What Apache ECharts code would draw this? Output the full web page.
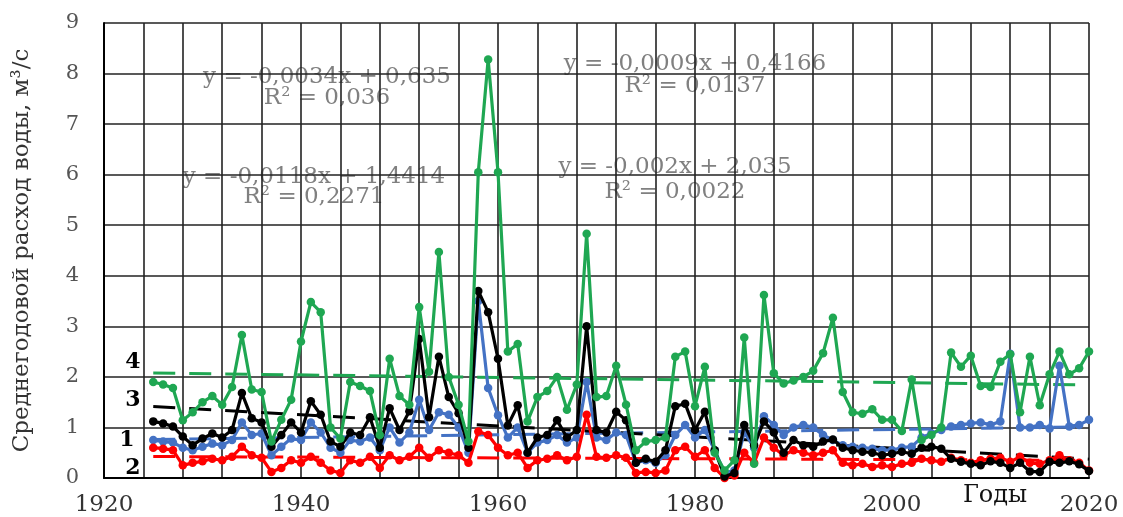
<!DOCTYPE html>
<html><head><meta charset="utf-8">
<script src="https://cdn.jsdelivr.net/npm/echarts@6/dist/echarts.min.js"></script>
<style>html,body{margin:0;padding:0;background:#fff}#c{width:1123px;height:517px}</style>
</head><body><div id="c"></div>
<script>
const startYear = 1925;
const green4 = [1.9,1.85,1.78,1.14,1.3,1.5,1.62,1.45,1.8,2.83,1.75,1.7,0.72,1.15,1.55,2.7,3.48,3.28,1.0,0.78,1.9,1.82,1.72,0.85,2.36,1.62,1.45,3.38,2.1,4.47,2.0,1.45,0.72,6.05,8.28,6.05,2.5,2.65,1.12,1.6,1.72,2.0,1.35,1.85,4.83,1.6,1.62,2.22,1.45,0.55,0.72,0.75,0.8,2.4,2.5,1.42,2.2,0.5,0.15,0.35,2.78,0.28,3.62,2.07,1.87,1.93,2.0,2.12,2.47,3.17,1.7,1.3,1.27,1.36,1.15,1.15,0.93,1.95,0.75,0.85,1.0,2.48,2.2,2.42,1.82,1.8,2.3,2.45,1.3,2.4,1.44,2.05,2.5,2.05,2.17,2.5];
const black3 = [1.12,1.08,1.02,0.82,0.65,0.78,0.88,0.8,0.95,1.68,1.18,1.1,0.62,0.85,1.1,0.9,1.52,1.25,0.72,0.62,0.9,0.85,1.2,0.6,1.38,0.95,1.32,2.75,1.2,2.4,1.6,1.28,0.6,3.7,3.28,2.36,1.04,1.44,0.5,0.8,0.85,1.14,0.8,0.95,3.0,0.95,0.9,1.31,1.14,0.3,0.38,0.32,0.55,1.42,1.47,0.95,1.31,0.55,0.03,0.1,1.05,0.65,1.12,0.9,0.5,0.75,0.65,0.62,0.72,0.76,0.6,0.55,0.52,0.5,0.45,0.48,0.52,0.48,0.6,0.62,0.58,0.38,0.32,0.28,0.25,0.33,0.3,0.2,0.3,0.13,0.12,0.32,0.3,0.33,0.27,0.14];
const blue1 = [0.75,0.72,0.7,0.6,0.55,0.62,0.68,0.65,0.75,1.1,0.85,0.88,0.45,0.62,0.78,0.75,1.1,0.9,0.6,0.5,0.75,0.72,0.8,0.55,1.0,0.7,0.9,1.55,0.95,1.3,1.25,1.0,0.5,3.5,1.78,1.24,0.8,1.0,0.5,0.7,0.75,0.85,0.7,0.8,1.9,0.8,0.75,0.9,0.85,0.3,0.35,0.3,0.45,0.85,1.05,0.8,0.95,0.55,0.1,0.15,0.9,0.6,1.22,1.05,0.85,1.0,1.05,1.0,0.85,0.75,0.65,0.62,0.6,0.58,0.55,0.55,0.6,0.62,0.8,0.88,0.95,1.02,1.05,1.08,1.1,1.05,1.12,2.46,1.0,1.0,1.05,0.98,2.22,1.02,1.05,1.15];
const red2 = [0.6,0.58,0.55,0.25,0.3,0.33,0.38,0.35,0.42,0.62,0.45,0.4,0.12,0.2,0.35,0.3,0.42,0.3,0.15,0.1,0.35,0.3,0.42,0.2,0.45,0.35,0.42,0.6,0.4,0.55,0.5,0.45,0.3,0.92,0.85,0.6,0.45,0.5,0.2,0.35,0.38,0.45,0.35,0.42,1.25,0.42,0.4,0.45,0.4,0.1,0.12,0.1,0.15,0.55,0.62,0.42,0.55,0.2,0.0,0.05,0.5,0.3,0.8,0.6,0.45,0.55,0.5,0.45,0.5,0.55,0.3,0.25,0.28,0.22,0.25,0.22,0.28,0.3,0.38,0.35,0.32,0.4,0.35,0.3,0.35,0.38,0.4,0.32,0.42,0.3,0.28,0.35,0.45,0.35,0.3,0.15];
const seriesNames = ['1','2','3','4'];
const seriesColors = ['#4472c4','#ff0000','#000000','#1fa752'];
const equations = [
  ['y = -0,0034x + 0,635','R² = 0,036'],
  ['y = -0,0118x + 1,4414','R² = 0,2271'],
  ['y = -0,0009x + 0,4166','R² = 0,0137'],
  ['y = -0,002x + 2,035','R² = 0,0022']
];
const yTitle = 'Среднегодовой расход воды, м³/с';
const xTitle = 'Годы';

const allSeries = [blue1, red2, black3, green4];
function pairs(arr){ return arr.map((v,i)=>[startYear+i, v]); }
function trend(arr){
  const n = arr.length; let sx=0, sy=0, sxx=0, sxy=0;
  arr.forEach((v,i)=>{const x=i+1; sx+=x; sy+=v; sxx+=x*x; sxy+=x*v;});
  const b = (n*sxy - sx*sy)/(n*sxx - sx*sx); const a = (sy - b*sx)/n;
  return [[startYear, a+b*1],[startYear+n-1, a+b*n]];
}
const serif = 'DejaVu Serif';
const series = [];
allSeries.forEach((arr,k)=>{
  series.push({type:'line', name:'trend'+seriesNames[k], data: trend(arr), symbol:'none', silent:true,
    lineStyle:{color:seriesColors[k], width:3, type:[22,14]}, z:2});
});
allSeries.forEach((arr,k)=>{
  series.push({type:'line', name:seriesNames[k], data: pairs(arr), symbol:'circle', symbolSize:8.5,
    itemStyle:{color:seriesColors[k]}, lineStyle:{color:seriesColors[k], width:3.2}, z:3+k});
});

const eqPos = [[327,77,98],[314,177,197],[695,64,86],[675,167,192]];
const labelPos = [[133,362,'4'],[133,400,'3'],[127,440,'1'],[133,468,'2']];
const g2 = [];
equations.forEach((e,i)=>{
  g2.push({type:'text', x:eqPos[i][0], y:eqPos[i][1], style:{text:e[0], fill:'#808080', font:'23px "'+serif+'"', align:'center', verticalAlign:'middle'}});
  g2.push({type:'text', x:eqPos[i][0], y:eqPos[i][2], style:{text:e[1], fill:'#808080', font:'23px "'+serif+'"', align:'center', verticalAlign:'middle'}});
});
labelPos.forEach(p=>{
  g2.push({type:'text', x:p[0], y:p[1], style:{text:p[2], fill:'#000', font:'bold 22px "'+serif+'"', align:'center', verticalAlign:'middle'}, z:10});
});
g2.push({type:'text', x:995, y:496, style:{text:xTitle, fill:'#111', font:'24px "'+serif+'"', align:'center', verticalAlign:'middle'}});

const chart = echarts.init(document.getElementById('c'));
chart.setOption({
  animation:false,
  backgroundColor:'#fff',
  grid:{left:104, right:34, top:23, bottom:37, show:false},
  xAxis:{type:'value', min:1920, max:2020, interval:4,
    axisLine:{show:true, lineStyle:{color:'#000', width:2}}, axisTick:{show:false},
    splitLine:{show:true, lineStyle:{color:'#222', width:1.6}},
    axisLabel:{formatter:v=> (v%20===0? String(v):''), color:'#333', fontFamily:serif, fontSize:23, margin:16}},
  yAxis:{type:'value', min:0, max:9, interval:1,
    name:yTitle, nameLocation:'middle', nameGap:70, nameRotate:90,
    nameTextStyle:{color:'#333', fontFamily:serif, fontSize:23},
    axisLine:{show:true, lineStyle:{color:'#000', width:2}}, axisTick:{show:false},
    splitLine:{show:true, lineStyle:{color:'#222', width:1.6}},
    axisLabel:{color:'#555', fontFamily:serif, fontSize:21, margin:25}},
  series: series,
  graphic: g2
});
</script></body></html>
